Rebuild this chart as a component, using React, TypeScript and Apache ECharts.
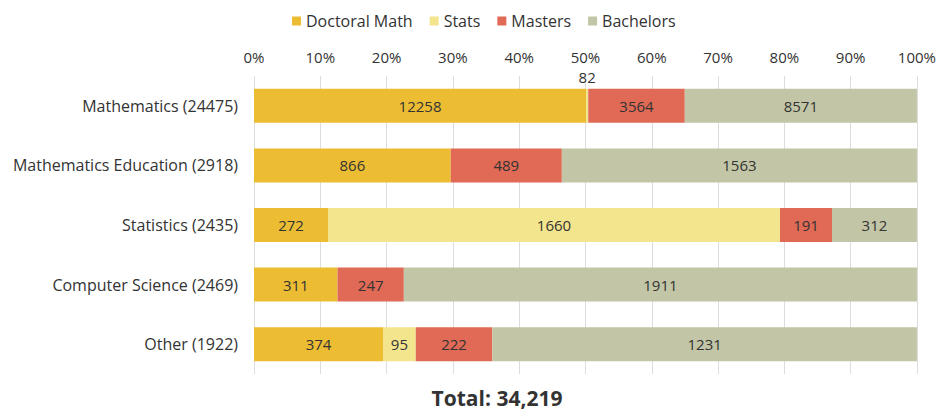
import React, { useEffect, useRef } from "react";
import * as echarts from "echarts";

const categories = [
  "Mathematics (24475)",
  "Mathematics Education (2918)",
  "Statistics (2435)",
  "Computer Science (2469)",
  "Other (1922)",
];
const seriesNames = ["Doctoral Math", "Stats", "Masters", "Bachelors"];
const doctoralMath = [12258, 866, 272, 311, 374];
const stats = [82, 0, 1660, 0, 95];
const masters = [3564, 489, 191, 247, 222];
const bachelors = [8571, 1563, 312, 1911, 1231];
const colors = ["#ECBD33", "#F3E48E", "#E06A55", "#C2C6A6"];
const totalText = "Total: 34,219";

export default function App() {
  const ref = useRef<HTMLDivElement>(null);
  useEffect(() => {
    if (!ref.current) return;
    const chart = echarts.init(ref.current, null, { renderer: "svg" });
    const all = [doctoralMath, stats, masters, bachelors];
    const totals = categories.map((_, i) => all.reduce((s, a) => s + a[i], 0));
    const font = "'Open Sans', 'Liberation Sans', sans-serif";
    const series = all.map((vals, si) => ({
      name: seriesNames[si],
      type: "bar",
      stack: "total",
      barWidth: "57%",
      itemStyle: { color: colors[si] },
      data: vals.map((v, i) => {
        const pct = (v / totals[i]) * 100;
        const small = v > 0 && pct < 1;
        return {
          value: pct,
          label: {
            show: v > 0,
            position: small ? "top" : "inside",
            distance: 4,
            formatter: String(v),
            color: "#333",
            fontSize: 15,
            fontFamily: font,
          },
        };
      }),
    }));
    chart.setOption({
      animation: false,
      textStyle: { fontFamily: font },
      legend: {
        top: 8,
        left: 287,
        itemWidth: 9,
        itemHeight: 9,
        itemGap: 17,
        icon: "rect",
        textStyle: { fontSize: 16, color: "#333", fontFamily: font },
        data: seriesNames,
      },
      graphic: [
        {
          type: "text",
          x: 497,
          y: 398,
          style: {
            text: totalText,
            align: "center",
            verticalAlign: "middle",
            fontSize: 21,
            fontWeight: "bold",
            fill: "#333",
            fontFamily: font,
          },
        },
      ],
      grid: { left: 254, right: 22, top: 76, bottom: 36, containLabel: false },
      xAxis: {
        type: "value",
        position: "top",
        min: 0,
        max: 100,
        interval: 10,
        axisLabel: {
          formatter: "{value}%",
          fontSize: 15,
          color: "#333",
          margin: 12,
          fontFamily: font,
        },
        axisLine: { show: false },
        axisTick: { show: false },
        splitLine: { show: true, lineStyle: { color: "#ddd", width: 1 } },
      },
      yAxis: {
        type: "category",
        inverse: true,
        data: categories,
        axisLine: { show: false },
        axisTick: { show: false },
        axisLabel: { fontSize: 16, color: "#333", margin: 16, fontFamily: font },
      },
      series,
    });
    return () => chart.dispose();
  }, []);
  return (
    <div
      ref={ref}
      style={{ position: "absolute", left: 0, top: 0, width: 939, height: 410 }}
    />
  );
}
